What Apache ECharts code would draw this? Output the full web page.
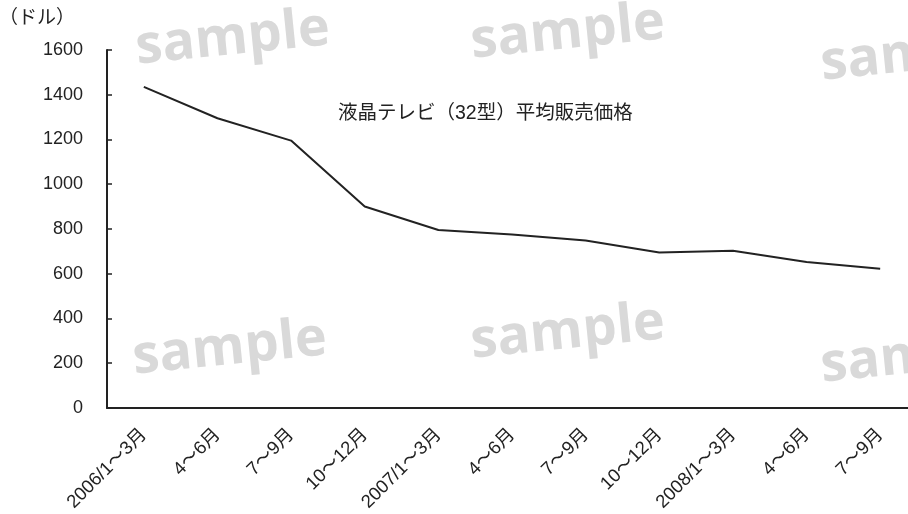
<!DOCTYPE html>
<html>
<head>
<meta charset="utf-8">
<script src="https://cdn.jsdelivr.net/npm/echarts@6/dist/echarts.min.js"></script>
<style>
  html, body { margin: 0; padding: 0; background: #fff; overflow: hidden; }
  /* 右端の軸は画面外まで続くので、少し広めに描く */
  #main { width: 917px; height: 514px; }
</style>
</head>
<body>
<div id="main"></div>
<script>
// 四半期ごとの液晶テレビ（32型）平均販売価格
const quarters = ['2006/1～3月', '4～6月', '7～9月', '10～12月', '2007/1～3月', '4～6月', '7～9月', '10～12月', '2008/1～3月', '4～6月', '7～9月']
const prices = [1435, 1295, 1195, 900, 795, 775, 748, 695, 703, 652, 622]
const yTicks = [0, 1600, 200] // min, max, interval

const FONT = '"Liberation Sans", Arial, "Noto Sans CJK JP", sans-serif'

// 透かし
const marks = [
  [133, 2], [468, -4], [818, 18],
  [130, 312], [468, 296], [818, 320]
]

const chart = echarts.init(document.getElementById('main'), null, { renderer: 'canvas' })

chart.setOption({
  backgroundColor: '#fff',
  animation: false,
  grid: { left: 107, right: 0, top: 50, bottom: 106 },
  xAxis: {
    type: 'category',
    data: quarters,
    boundaryGap: true,
    axisLine: { lineStyle: { color: '#222', width: 2 } },
    axisTick: { inside: true, length: 5, lineStyle: { color: '#222', width: 1.5 } },
    axisLabel: { rotate: 45, color: '#222', fontSize: 18.5, fontFamily: FONT, margin: 24, interval: 0 }
  },
  yAxis: {
    type: 'value',
    min: yTicks[0],
    max: yTicks[1],
    interval: yTicks[2],
    splitLine: { show: false },
    axisLine: { show: true, lineStyle: { color: '#222', width: 2 } },
    axisTick: { show: true, inside: true, length: 5, lineStyle: { color: '#222', width: 1.5 } },
    axisLabel: { color: '#222', fontSize: 18, fontFamily: FONT, margin: 24, formatter: v => String(v) }
  },
  series: [{
    type: 'line',
    data: prices,
    symbol: 'none',
    lineStyle: { color: '#222', width: 2 }
  }],
  graphic: [
    ...marks.map(([x, y]) => ({
      type: 'text',
      left: x, top: y,
      rotation: 0.1,
      z: -1,
      style: {
        text: 'sample', fill: '#d9d9d9',
        fontSize: 54, fontWeight: 'bold', fontFamily: '"Open Sans", "Liberation Sans", sans-serif',
        shadowColor: 'rgba(200,200,200,0.8)', shadowBlur: 5
      }
    })),
    {
      type: 'text', left: -1, top: 7,
      style: { text: '（ドル）', fill: '#222', fontSize: 19, fontFamily: '"Noto Sans CJK JP", sans-serif' }
    },
    {
      type: 'text', left: 338, top: 104,
      style: { text: '液晶テレビ（32型）平均販売価格', fill: '#222', fontSize: 19.5, fontFamily: FONT }
    }
  ]
})
</script>
</body>
</html>
